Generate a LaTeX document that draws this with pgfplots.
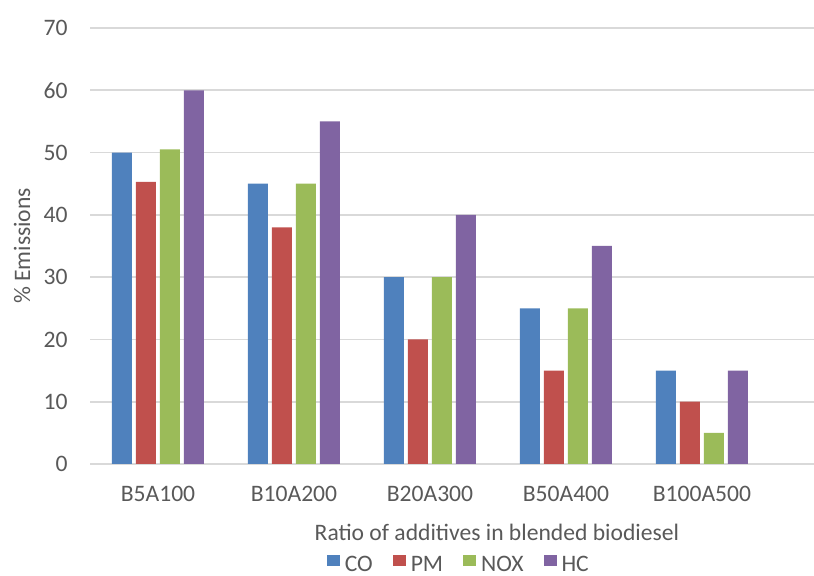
\documentclass[border=0pt]{standalone}
\usepackage{fontspec}
\setmainfont{Carlito}
\usepackage{pgfplots}
\pgfplotsset{compat=1.18}

\definecolor{textgray}{HTML}{595959}
\definecolor{gridgray}{HTML}{D9D9D9}
\definecolor{coblue}{HTML}{4F81BD}
\definecolor{pmred}{HTML}{C0504D}
\definecolor{noxgreen}{HTML}{9BBB59}
\definecolor{hcpurple}{HTML}{8064A2}

\newcommand\chartfont{\fontsize{11.8}{14}\selectfont}

\begin{document}
\begin{tikzpicture}
\begin{axis}[
  scale only axis,
  width=362pt, height=218pt,
  ybar=2pt, bar width=10pt,
  xmin=-0.5, xmax=4.824,
  ymin=0, ymax=70,
  ytick={0,10,...,70},
  xtick={0,1,2,3,4},
  xticklabels={B5A100,B10A200,B20A300,B50A400,B100A500},
  major tick length=0pt,
  axis line style={draw=none},
  ymajorgrids,
  major grid style={draw=gridgray, line width=0.8pt},
  /pgf/number format/assume math mode=true,
  tick label style={font=\chartfont, text=textgray},
  yticklabel style={anchor=east, inner sep=0pt, xshift=-11pt},
  xticklabel style={anchor=base, inner sep=0pt, yshift=-19pt},
  xlabel={Ratio of additives in blended biodiesel},
  ylabel={\% Emissions},
  label style={font=\chartfont, text=textgray},
  xlabel style={at={(axis description cs:0.562,0)}, anchor=base, inner sep=0pt, yshift=-38.5pt},
  ylabel style={at={(axis description cs:0,0.5)}, anchor=center, inner sep=0pt, yshift=34pt},
  legend columns=-1,
  legend style={draw=none, fill=none, inner sep=0pt,
    at={(axis description cs:0.508,0)}, anchor=south, yshift=-55.3pt,
    font=\chartfont, text=textgray,
    nodes={inner sep=0pt},
    /tikz/every odd column/.append style={column sep=2.5pt},
    /tikz/every even column/.append style={column sep=10pt}},
  legend image code/.code={\fill[#1, draw=none] (0pt,-0.3pt) rectangle (6.5pt,5pt);},
]
% CO, PM, NOX and HC emissions for each blend ratio
\addplot[fill=coblue, draw=none] coordinates {(0,50) (1,45) (2,30) (3,25) (4,15)};
\addplot[fill=pmred, draw=none] coordinates {(0,45.3) (1,38) (2,20) (3,15) (4,10)};
\addplot[fill=noxgreen, draw=none] coordinates {(0,50.5) (1,45) (2,30) (3,25) (4,5)};
\addplot[fill=hcpurple, draw=none] coordinates {(0,60) (1,55) (2,40) (3,35) (4,15)};
\legend{CO,PM,NOX,HC}
\end{axis}
\pgfresetboundingbox
\path[use as bounding box] ([shift={(-45pt,-56pt)}]current axis.south west) rectangle ([shift={(0pt,14pt)}]current axis.north east);
\end{tikzpicture}
\end{document}
